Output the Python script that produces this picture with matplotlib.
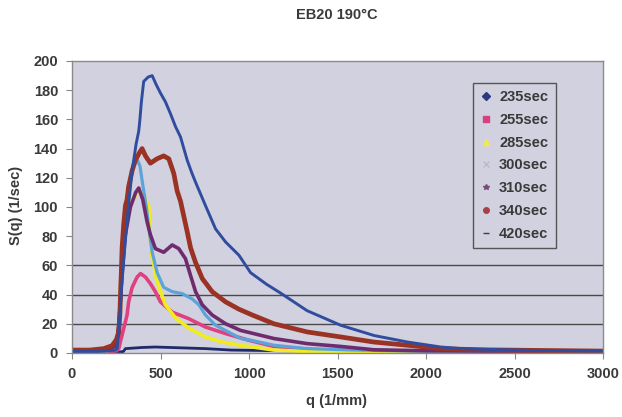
import matplotlib
matplotlib.use("Agg")
import matplotlib.pyplot as plt
from matplotlib.lines import Line2D

plt.rcParams['font.family'] = ['Liberation Sans', 'DejaVu Sans']

title = "EB20 190°C"
x_label = "q (1/mm)"
y_label = "S(q) (1/sec)"
labels = ["235sec", "255sec", "285sec", "300sec", "310sec", "340sec", "420sec"]

q235 = [0, 250, 290, 302, 400, 471, 600, 754, 900, 1200, 1600, 2000, 3000]
s235 = [0.5, 0.5, 1, 3, 3.8, 4.1, 3.6, 3, 2, 1.5, 1.2, 1, 0.8]

q255 = [0, 200, 250, 264, 273, 292, 311, 320, 340, 368, 387, 415, 443, 471, 500,
        566, 660, 754, 868, 1000, 1141, 1330, 1600, 2000, 3000]
s255 = [1, 1, 1.5, 3, 7.5, 16.7, 26, 35, 45, 52, 54.4, 52, 47.5, 42, 35,
        28, 23.5, 17.8, 13.3, 8.7, 4.5, 2.5, 1.5, 1, 0.7]

q285 = [0, 200, 250, 265, 273, 290, 302, 330, 370, 390, 410, 434, 443, 453, 461, 471,
        500, 528, 585, 660, 754, 849, 952, 1141, 1330, 2000, 3000]
s285 = [1, 1.5, 5, 20, 44, 75, 92, 103, 110, 112, 107, 100, 78, 65, 62, 53,
        42, 33, 24, 17, 11, 7.5, 5.3, 2, 1, 0.6, 0.5]

q300 = [0, 200, 250, 265, 280, 300, 320, 340, 349, 370, 384, 400, 420, 440, 453, 481,
        518, 566, 622, 679, 717, 754, 811, 905, 952, 1019, 1141, 1330, 1600, 2000, 3000]
s300 = [1, 1.5, 5, 20, 55, 95, 115, 126, 130, 132, 128, 115, 100, 80, 69, 55,
        45, 42, 40.7, 37, 33, 26, 19, 13, 10, 8.5, 5.3, 3, 2, 1.2, 0.8]

q310 = [0, 200, 250, 265, 280, 300, 330, 360, 377, 400, 424, 443, 471, 518, 566, 603,
        641, 670, 698, 736, 792, 868, 952, 1141, 1330, 1518, 1706, 2000, 2500, 3000]
s310 = [1.5, 2, 5, 20, 50, 80, 100, 110, 113, 105, 90, 81, 71.5, 69, 74, 71.5,
        64.6, 53, 42, 33, 26, 20, 15.5, 9.9, 6.4, 4.5, 2.2, 1.5, 1.2, 1]

q340 = [0, 100, 180, 226, 250, 264, 271, 275, 279, 283, 292, 302, 311, 320, 340, 358,
        380, 396, 415, 443, 480, 518, 547, 575, 594, 613, 622, 651, 670, 698, 736, 792,
        868, 943, 1019, 1141, 1330, 1518, 1706, 1896, 2084, 2300, 2600, 3000]
s340 = [2, 2, 3, 5, 9, 14, 28, 44, 56, 72, 88, 101, 105, 114, 125, 132,
        137, 140, 135, 130, 133, 135, 133, 123, 111, 104, 99, 83, 72, 62, 51, 42,
        35, 30, 26, 20, 14.4, 11, 7.5, 5.3, 3, 2.2, 1.8, 1.3]

q420 = [0, 150, 220, 245, 255, 265, 280, 300, 320, 340, 362, 377, 383, 392, 405, 430,
        453, 475, 500, 528, 556, 585, 613, 632, 651, 675, 698, 726, 754, 811, 868, 943,
        1009, 1100, 1179, 1328, 1518, 1706, 1896, 2084, 2198, 2400, 2600, 2800, 3000]
s420 = [1, 1, 1.5, 2, 3, 15, 45, 75, 102, 125, 143, 152, 159, 172, 186, 189,
        190, 184, 178, 172, 164, 155, 148, 140, 132, 124, 117, 109, 101, 85, 76, 67,
        55, 47, 41, 29, 19, 12, 7.5, 4.1, 3, 2.3, 1.8, 1.5, 1.3]

grid_levels = [20, 40, 60]
x_ticks = [0, 500, 1000, 1500, 2000, 2500, 3000]
y_ticks = [0, 20, 40, 60, 80, 100, 120, 140, 160, 180, 200]

series = [(q235, s235), (q255, s255), (q285, s285), (q300, s300),
          (q310, s310), (q340, s340), (q420, s420)]
colors = ['#1F2A6B', '#E0407F', '#F2EC1E', '#5BA3D8', '#6E2C6E', '#9B3324', '#2F4C9F']
markers = ['D', 's', '^', 'x', '*', 'o', '_']
legend_marker_colors = ['#2A3A7A', '#D84080', '#F2EC40', '#B8BCCC', '#7A4A7A', '#A84048', '#303A70']
lws = [2.0, 2.6, 2.6, 2.3, 2.6, 3.4, 2.1]

BG = '#D1D1DF'
TXT = '#3A3A3A'

fig = plt.figure(figsize=(6.22, 4.17), dpi=100)
fig.patch.set_facecolor('white')
ax = fig.add_axes([72/622, 1-353/417, 531/622, 292/417])
ax.set_facecolor(BG)

for lv in grid_levels:
    ax.axhline(lv, color='#4A4A4A', lw=1.0, zorder=1)

for (q, s), c, lw in zip(series, colors, lws):
    ax.plot(q, s, color=c, lw=lw, zorder=2,
            solid_capstyle='round', solid_joinstyle='round')

ax.set_xlim(0, 3000)
ax.set_ylim(0, 200)
ax.set_xticks(x_ticks)
ax.set_yticks(y_ticks)
ax.tick_params(axis='both', direction='out', length=4, color='#888888',
               labelsize=10.5, labelcolor=TXT, pad=6)
for lab in ax.get_xticklabels() + ax.get_yticklabels():
    lab.set_fontweight('bold')
for sp in ax.spines.values():
    sp.set_color('#8A8A8A')
    sp.set_linewidth(1.0)

fig.text(337/622, 1-15/417, title, ha='center', va='center',
         fontsize=10.5, fontweight='bold', color=TXT)
fig.text(337/622, 1-401/417, x_label, ha='center', va='center',
         fontsize=10.5, fontweight='bold', color=TXT)
fig.text(16/622, 1-205/417, y_label, ha='center', va='center', rotation=90,
         fontsize=10.5, fontweight='bold', color=TXT)

handles = [Line2D([], [], ls='none', marker=m, color=c, ms=4, mec=c, mfc=c)
           for m, c in zip(markers, legend_marker_colors)]
leg = ax.legend(handles, labels, loc='upper left', bbox_to_anchor=(0.755, 0.925),
                frameon=True, fancybox=False, framealpha=1, facecolor=BG,
                edgecolor='#555555', fontsize=10.5, labelspacing=0.6,
                handlelength=0.8, handletextpad=0.5, borderpad=0.5,
                borderaxespad=0)
leg.get_frame().set_linewidth(1.0)
for t in leg.get_texts():
    t.set_fontweight('bold')
    t.set_color(TXT)

fig.savefig('out.png', dpi=100, facecolor='white')
